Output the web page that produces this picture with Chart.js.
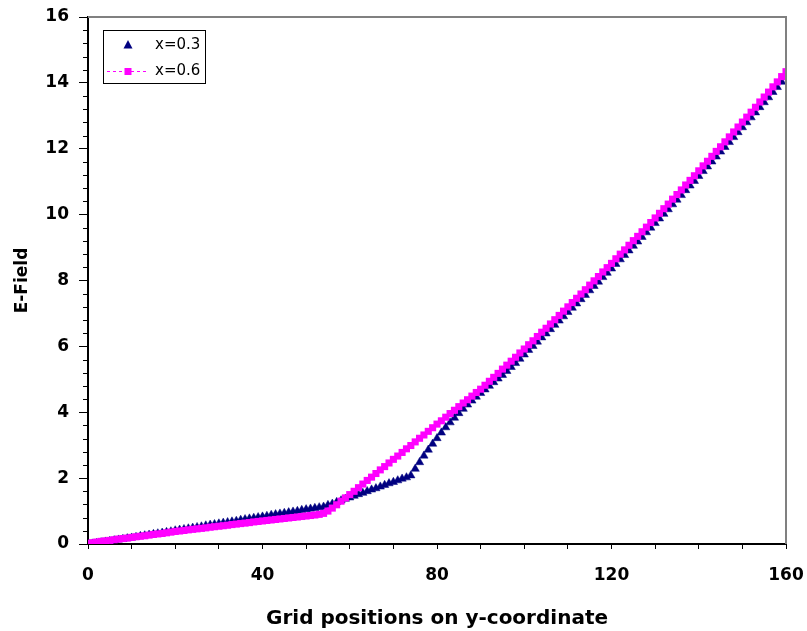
<!DOCTYPE html>
<html>
<head>
<meta charset="utf-8">
<script src="https://cdn.jsdelivr.net/npm/chart.js@4/dist/chart.umd.min.js"></script>
<style>
  html, body { margin: 0; padding: 0; background: #ffffff; }
  #wrap { width: 807px; height: 631px; }
</style>
</head>
<body>
<div id="wrap"><canvas id="c" width="807" height="631"></canvas></div>
<script>
// Grid positions along the y-coordinate (x axis of the plot)
const gridPos = [
  0,1,2,3,4,5,6,7,8,9,10,11,12,13,14,15,16,17,18,19,20,
  21,22,23,24,25,26,27,28,29,30,31,32,33,34,35,36,37,38,39,40,
  41,42,43,44,45,46,47,48,49,50,51,52,53,54,55,56,57,58,59,60,
  61,62,63,64,65,66,67,68,69,70,71,72,73,74,75,76,77,78,79,80,
  81,82,83,84,85,86,87,88,89,90,91,92,93,94,95,96,97,98,99,100,
  101,102,103,104,105,106,107,108,109,110,111,112,113,114,115,116,117,118,119,120,
  121,122,123,124,125,126,127,128,129,130,131,132,133,134,135,136,137,138,139,140,
  141,142,143,144,145,146,147,148,149,150,151,152,153,154,155,156,157,158,159,160
];

// E-Field for x = 0.3
const fieldX03 = [
  0.00,0.01,0.03,0.05,0.07,0.09,0.11,0.13,0.15,0.17,0.19,
  0.21,0.24,0.26,0.28,0.30,0.32,0.34,0.36,0.38,0.41,
  0.43,0.45,0.47,0.49,0.51,0.53,0.56,0.58,0.60,0.62,
  0.64,0.66,0.68,0.70,0.73,0.75,0.77,0.79,0.81,0.83,
  0.85,0.88,0.90,0.92,0.94,0.96,0.98,1.00,1.03,1.05,
  1.07,1.09,1.11,1.13,1.18,1.22,1.27,1.32,1.37,1.41,
  1.46,1.51,1.55,1.60,1.65,1.69,1.74,1.79,1.84,1.88,
  1.93,1.98,2.02,2.08,2.28,2.48,2.68,2.86,3.04,3.21,
  3.38,3.54,3.69,3.83,3.97,4.10,4.23,4.35,4.47,4.58,
  4.69,4.80,4.91,5.02,5.13,5.25,5.37,5.49,5.62,5.75,
  5.89,6.01,6.14,6.27,6.39,6.52,6.65,6.78,6.91,7.04,
  7.17,7.30,7.43,7.56,7.70,7.83,7.96,8.10,8.23,8.36,
  8.50,8.64,8.77,8.91,9.05,9.18,9.32,9.46,9.60,9.74,
  9.88,10.02,10.16,10.31,10.45,10.59,10.74,10.88,11.02,11.17,
  11.32,11.46,11.61,11.76,11.91,12.05,12.20,12.35,12.50,12.65,
  12.80,12.95,13.10,13.26,13.41,13.56,13.72,13.87,14.03,14.18
];

// E-Field for x = 0.6
const fieldX06 = [
  0.02,0.04,0.06,0.08,0.095,0.11,0.13,0.15,0.165,0.18,0.20,
  0.22,0.235,0.25,0.27,0.29,0.305,0.32,0.34,0.36,0.38,
  0.395,0.41,0.43,0.445,0.46,0.475,0.49,0.51,0.525,0.54,
  0.555,0.57,0.59,0.605,0.62,0.635,0.65,0.67,0.685,0.70,
  0.715,0.73,0.745,0.76,0.775,0.79,0.805,0.82,0.835,0.85,
  0.865,0.88,0.90,0.93,1.00,1.09,1.19,1.30,1.40,1.50,
  1.60,1.71,1.82,1.93,2.03,2.14,2.25,2.35,2.46,2.57,
  2.67,2.78,2.89,2.99,3.10,3.21,3.31,3.42,3.53,3.64,
  3.74,3.85,3.96,4.06,4.17,4.28,4.38,4.49,4.60,4.70,
  4.82,4.94,5.06,5.18,5.31,5.43,5.55,5.67,5.80,5.92,
  6.05,6.17,6.30,6.43,6.55,6.68,6.81,6.94,7.07,7.20,
  7.33,7.46,7.59,7.72,7.86,7.99,8.12,8.26,8.39,8.52,
  8.66,8.80,8.93,9.07,9.21,9.34,9.48,9.62,9.76,9.90,
  10.04,10.18,10.32,10.47,10.61,10.75,10.90,11.04,11.18,11.33,
  11.48,11.62,11.77,11.92,12.06,12.21,12.36,12.51,12.66,12.81,
  12.96,13.11,13.26,13.42,13.57,13.72,13.88,14.03,14.19,14.34
];

const seriesNames = ['x=0.3', 'x=0.6'];
const xTickLabels = [0, 40, 80, 120, 160];
const yTickLabels = [0, 2, 4, 6, 8, 10, 12, 14, 16];

const NAVY = '#000080';
const MAGENTA = '#FF00FF';
const FONT = "'DejaVu Sans', 'Liberation Sans', Arial, sans-serif";

const toPoints = (ys) => gridPos.map((x, i) => ({ x: x, y: ys[i] }));

// Minor ticks on the value axis, top/right frame, and the boxed legend
const framePlugin = {
  id: 'frame',
  afterDraw(chart) {
    const ctx = chart.ctx;
    const a = chart.chartArea;
    const yScale = chart.scales.y;
    ctx.save();
    // minor y ticks every 0.4
    ctx.strokeStyle = '#000000';
    ctx.lineWidth = 1;
    for (let i = 1; i < 40; i++) {
      if (i % 5 === 0) continue;
      const py = Math.round(yScale.getPixelForValue(i * 0.4)) + 0.5;
      ctx.beginPath();
      ctx.moveTo(a.left - 5, py);
      ctx.lineTo(a.left, py);
      ctx.stroke();
    }
    // grey frame on top and right
    ctx.strokeStyle = '#808080';
    ctx.lineWidth = 2;
    ctx.beginPath();
    ctx.moveTo(a.left, a.top);
    ctx.lineTo(a.right, a.top);
    ctx.lineTo(a.right, a.bottom);
    ctx.stroke();

    // legend box
    const bx = a.left + 15, by = a.top + 13, bw = 102, bh = 53;
    ctx.fillStyle = '#ffffff';
    ctx.fillRect(bx, by, bw, bh);
    ctx.strokeStyle = '#000000';
    ctx.lineWidth = 1;
    ctx.strokeRect(bx + 0.5, by + 0.5, bw, bh);

    const row1 = by + 15, row2 = by + 41;
    const mx = bx + 25;
    // triangle marker
    ctx.fillStyle = NAVY;
    ctx.beginPath();
    ctx.moveTo(mx, row1 - 5);
    ctx.lineTo(mx + 4.5, row1 + 3.5);
    ctx.lineTo(mx - 4.5, row1 + 3.5);
    ctx.closePath();
    ctx.fill();
    // dashed line with square marker
    ctx.strokeStyle = MAGENTA;
    ctx.lineWidth = 1;
    ctx.setLineDash([3, 3]);
    ctx.beginPath();
    ctx.moveTo(bx + 4, Math.round(row2) + 0.5);
    ctx.lineTo(bx + 46, Math.round(row2) + 0.5);
    ctx.stroke();
    ctx.setLineDash([]);
    ctx.fillStyle = MAGENTA;
    ctx.fillRect(mx - 3.5, row2 - 3, 7, 7);

    ctx.fillStyle = '#000000';
    ctx.font = '15px ' + FONT;
    ctx.textAlign = 'left';
    ctx.textBaseline = 'middle';
    ctx.fillText(seriesNames[0], bx + 52, row1);
    ctx.fillText(seriesNames[1], bx + 52, row2);
    ctx.restore();
  }
};

new Chart(document.getElementById('c'), {
  type: 'scatter',
  data: {
    datasets: [
      {
        label: seriesNames[0],
        data: toPoints(fieldX03),
        showLine: false,
        pointStyle: 'triangle',
        pointRadius: 4.8,
        pointBackgroundColor: NAVY,
        pointBorderColor: NAVY,
        pointBorderWidth: 0.5,
        order: 1
      },
      {
        label: seriesNames[1],
        data: toPoints(fieldX06),
        showLine: true,
        borderColor: MAGENTA,
        borderWidth: 1,
        borderDash: [3, 3],
        pointStyle: 'rect',
        pointRadius: 5,
        pointBackgroundColor: MAGENTA,
        pointBorderColor: MAGENTA,
        pointBorderWidth: 0,
        order: 0
      }
    ]
  },
  options: {
    responsive: false,
    animation: false,
    events: [],
    layout: { padding: { top: 17, right: 21, left: 0, bottom: 0 } },
    plugins: { legend: { display: false }, tooltip: { enabled: false } },
    scales: {
      x: {
        type: 'linear',
        min: 0, max: 160,
        afterFit(s) { s.height = 87; s.paddingLeft = 0; s.paddingRight = 0; },
        border: { color: '#000000', width: 2 },
        grid: { drawOnChartArea: false, drawTicks: true, tickLength: 5, color: '#000000' },
        ticks: {
          stepSize: 10,
          autoSkip: false,
          maxRotation: 0,
          padding: 16,
          color: '#000000',
          font: { family: FONT, size: 17, weight: 'bold' },
          callback: (v) => xTickLabels.includes(v) ? String(v) : ''
        },
        title: {
          display: true,
          text: 'Grid positions on y-coordinate',
          color: '#000000',
          font: { family: FONT, size: 20, weight: 'bold' },
          padding: { top: 0, bottom: 0 }
        }
      },
      y: {
        type: 'linear',
        min: 0, max: 16,
        afterFit(s) { s.width = 88; s.paddingTop = 0; s.paddingBottom = 0; },
        border: { color: '#000000', width: 2 },
        grid: { drawOnChartArea: false, drawTicks: true, tickLength: 9, color: '#000000' },
        ticks: {
          stepSize: 2,
          padding: 10,
          color: '#000000',
          font: { family: FONT, size: 17, weight: 'bold' },
          callback: (v) => yTickLabels.includes(v) ? String(v) : ''
        },
        title: {
          display: true,
          text: 'E-Field',
          color: '#000000',
          font: { family: FONT, size: 17, weight: 'bold' },
          padding: { top: 12, bottom: 0 }
        }
      }
    }
  },
  plugins: [framePlugin]
});
</script>
</body>
</html>
